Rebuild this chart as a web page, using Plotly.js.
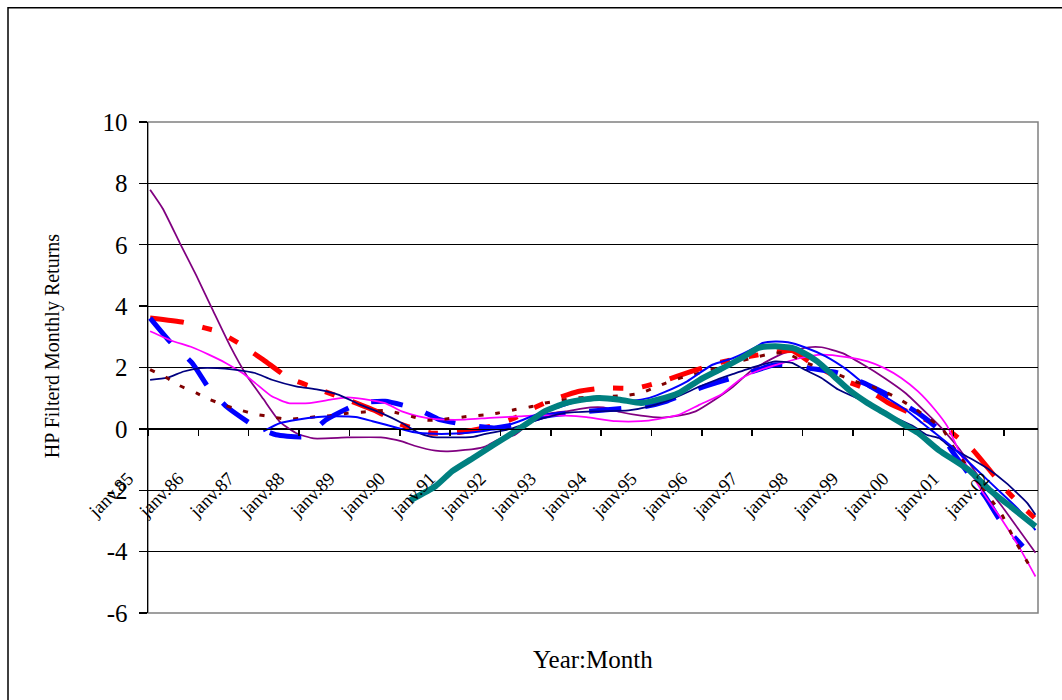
<!DOCTYPE html>
<html>
<head>
<meta charset="utf-8">
<script src="https://cdn.plot.ly/plotly-3.0.1.min.js"></script>
<style>
  html, body { margin: 0; padding: 0; background: #ffffff; }
  #chart { width: 1062px; height: 700px; }
</style>
</head>
<body>
<div id="chart"></div>
<script>
// Month index: 0 = janv.85, 12 = janv.86, ...
const tickLabels = ["janv.85","janv.86","janv.87","janv.88","janv.89","janv.90","janv.91","janv.92","janv.93",
  "janv.94","janv.95","janv.96","janv.97","janv.98","janv.99","janv.00","janv.01","janv.02"];
const yTickValues = [-6,-4,-2,0,2,4,6,8,10];
const yTickLabels = ["-6","-4","-2","0","2","4","6","8","10"];

const purpleMonths = [0,3,7,11,15,19,23,27,31,35,39,47,55,60,63,68,71,77,80,83,87,90,93,96,99,105,108,112,117,122,126,130,134,139,143,147,151,157,160,165,170,175,180,185,189,193,198,203,207,211];
const purpleValues = [7.79,7.18,6.08,5.00,3.85,2.72,1.74,0.97,0.22,-0.15,-0.31,-0.28,-0.28,-0.41,-0.55,-0.71,-0.73,-0.66,-0.57,-0.35,-0.19,0.14,0.41,0.52,0.57,0.70,0.70,0.55,0.43,0.37,0.43,0.57,0.90,1.38,1.87,2.20,2.47,2.66,2.66,2.47,2.09,1.66,1.17,0.52,-0.03,-0.68,-1.66,-2.52,-3.28,-4.04];

const redMonths = [0,8,13,16,21,27,33,40,47,54,60,67,74,81,87,89,95,102,108,116,122,129,136,142,149,153,157,164,171,176,183,190,196,200,205,211];
const redValues = [3.61,3.47,3.29,3.18,2.80,2.25,1.66,1.30,0.95,0.57,0.14,-0.14,-0.11,0.08,0.36,0.52,0.90,1.22,1.33,1.33,1.55,1.87,2.17,2.34,2.50,2.55,2.20,1.66,1.28,0.84,0.41,-0.03,-0.68,-1.33,-2.14,-2.93];

const blueDashMonths = [0,5,10,14,18,25,30,37,42,50,56,64,69,77,82,88,94,104,114,118,123,131,136,140,149,155,157,164,171,175,183,188,191,199,203,208];
const blueDashValues = [3.61,2.80,2.15,1.33,0.75,0.08,-0.19,-0.25,0.30,0.84,0.90,0.63,0.30,0.10,0.03,0.17,0.41,0.57,0.68,0.73,0.90,1.33,1.55,1.71,2.09,2.04,1.98,1.82,1.44,1.17,0.52,-0.03,-0.70,-2.20,-3.07,-3.83];

const magentaMonths = [0,5,10,14,18,22,25,29,33,38,43,47,51,56,60,64,68,75,81,88,92,99,104,111,117,121,126,131,136,141,146,150,155,160,166,171,175,179,183,187,190,193,198,203,207,211];
const magentaValues = [3.18,2.88,2.66,2.42,2.15,1.82,1.50,1.06,0.84,0.84,0.95,1.03,0.97,0.84,0.57,0.41,0.32,0.30,0.36,0.41,0.44,0.43,0.38,0.25,0.25,0.32,0.46,0.79,1.11,1.65,1.95,2.12,2.31,2.42,2.34,2.20,1.98,1.66,1.22,0.63,0.08,-0.79,-1.98,-2.96,-3.83,-4.81];

const navyMonths = [0,4,8,12,16,20,25,29,35,40,45,50,55,60,64,67,71,77,80,85,89,94,99,106,114,119,125,131,135,139,144,149,153,156,160,164,171,176,182,185,188,191,196,200,204,209,211];
const navyValues = [1.60,1.66,1.87,1.98,1.98,1.93,1.82,1.60,1.38,1.28,1.11,0.79,0.52,0.19,-0.13,-0.26,-0.28,-0.26,-0.16,-0.03,0.14,0.36,0.52,0.57,0.60,0.73,1.01,1.38,1.60,1.79,2.02,2.20,2.15,1.93,1.66,1.28,0.84,0.46,0.08,-0.19,-0.30,-0.62,-1.00,-1.33,-1.76,-2.41,-2.80];

const darkRedMonths = [0,4,7,11,14,18,21,25,29,33,37,40,43,47,51,56,59,63,66,69,76,80,83,87,91,94,98,102,106,113,117,120,123,127,131,135,139,143,147,151,153,156,161,164,168,174,178,182,186,189,191,197,201,203,206,210];
const darkRedValues = [1.93,1.66,1.41,1.17,0.97,0.76,0.63,0.48,0.39,0.31,0.36,0.40,0.43,0.51,0.55,0.60,0.52,0.38,0.28,0.30,0.41,0.46,0.52,0.63,0.73,0.84,0.93,1.01,1.04,1.08,1.17,1.33,1.50,1.68,1.82,1.98,2.15,2.29,2.42,2.49,2.38,2.17,1.93,1.77,1.55,1.28,1.01,0.68,0.30,-0.03,-0.50,-1.66,-2.41,-2.80,-3.61,-4.56];

const blueMonths = [27,31,35,40,44,49,53,59,63,68,71,77,83,88,93,98,102,107,110,115,119,123,128,134,139,144,146,149,152,156,161,166,171,175,180,184,187,191,197,202,207,211];
const blueValues = [-0.08,0.19,0.30,0.39,0.41,0.39,0.25,0.03,-0.11,-0.16,-0.16,-0.11,0.03,0.25,0.52,0.73,0.90,0.97,0.95,0.92,1.01,1.22,1.55,2.09,2.31,2.64,2.80,2.85,2.82,2.66,2.36,1.93,1.38,1.06,0.63,0.19,-0.13,-0.57,-1.33,-1.98,-2.63,-3.30];

const tealMonths = [62,68,72,77,82,87,90,94,99,104,107,112,117,121,126,131,136,141,145,149,153,155,159,163,167,171,175,179,183,188,195,200,206,211];
const tealValues = [-2.33,-1.87,-1.38,-0.95,-0.51,-0.08,0.19,0.57,0.84,0.97,1.01,0.95,0.84,0.95,1.17,1.60,1.95,2.31,2.64,2.69,2.64,2.53,2.20,1.71,1.22,0.84,0.52,0.19,-0.13,-0.70,-1.33,-1.98,-2.63,-3.18];

function series(x, y, color, width, dash) {
  return {
    type: 'scatter', mode: 'lines', x: x, y: y,
    line: { color: color, width: width, dash: dash || 'solid', shape: 'spline', smoothing: 0.5 },
    hoverinfo: 'skip', showlegend: false
  };
}

const traces = [
  series(purpleMonths, purpleValues, '#800080', 1.75),
  series(redMonths, redValues, '#FF0000', 5, '34px,19px,10px,19px,10px,19px'),
  series(blueDashMonths, blueDashValues, '#0000FF', 5, '32px,24px'),
  series(magentaMonths, magentaValues, '#FF00FF', 1.75),
  series(navyMonths, navyValues, '#000080', 1.75),
  series(darkRedMonths, darkRedValues, '#800000', 3, '5px,12px'),
  series(blueMonths, blueValues, '#0000FF', 2),
  series(tealMonths, tealValues, '#008080', 6)
];

const tickPositions = tickLabels.map((_, k) => 12 * k - 0.5);
const serif = 'Liberation Serif, Times New Roman, serif';

const layout = {
  width: 1062, height: 700,
  margin: { l: 148, r: 24, t: 122, b: 87, pad: 0 },
  paper_bgcolor: '#ffffff', plot_bgcolor: '#ffffff',
  showlegend: false,
  hovermode: false,
  xaxis: {
    range: [-0.5, 211.6],
    anchor: 'free', position: 0.375,
    showgrid: false, zeroline: false,
    showline: true, linecolor: '#000000', linewidth: 1.6,
    ticks: 'outside', ticklen: 6, tickwidth: 1.5, tickcolor: '#000000',
    tickmode: 'array', tickvals: tickPositions, ticktext: tickLabels,
    tickangle: -45,
    ticklabelshift: -20, ticklabelstandoff: 24,
    tickfont: { family: serif, size: 18.5, color: '#000000' }
  },
  yaxis: {
    range: [-6, 10],
    tickmode: 'array', tickvals: yTickValues, ticktext: yTickLabels,
    showgrid: true, gridcolor: '#000000', gridwidth: 1,
    zeroline: false,
    showline: true, linecolor: '#000000', linewidth: 1.5,
    ticks: 'outside', ticklen: 8, tickwidth: 1.3, tickcolor: '#000000',
    ticklabelstandoff: 6,
    tickfont: { family: serif, size: 25, color: '#000000' }
  },
  shapes: [
    { type: 'rect', xref: 'paper', yref: 'paper', x0: 0, x1: 1, y0: 0, y1: 1,
      line: { color: '#808080', width: 1.5 }, fillcolor: 'rgba(0,0,0,0)', layer: 'between' },
    { type: 'rect', xref: 'paper', yref: 'paper', x0: -0.1573, x1: 1.06, y0: -0.2, y1: 1.2328,
      line: { color: '#000000', width: 1.5 }, fillcolor: 'rgba(0,0,0,0)', layer: 'below' }
  ],
  annotations: [
    { text: 'Year:Month', xref: 'paper', yref: 'paper', x: 0.5, y: -0.095,
      xanchor: 'center', yanchor: 'middle', showarrow: false,
      font: { family: serif, size: 25, color: '#000000' } },
    { text: 'HP Filterd Monthly Returns', xref: 'paper', yref: 'paper', x: -0.1079, y: 0.5434,
      xanchor: 'center', yanchor: 'middle', textangle: -90, showarrow: false,
      font: { family: serif, size: 20, color: '#000000' } }
  ]
};

Plotly.newPlot('chart', traces, layout, { displayModeBar: false, staticPlot: true });
</script>
</body>
</html>
